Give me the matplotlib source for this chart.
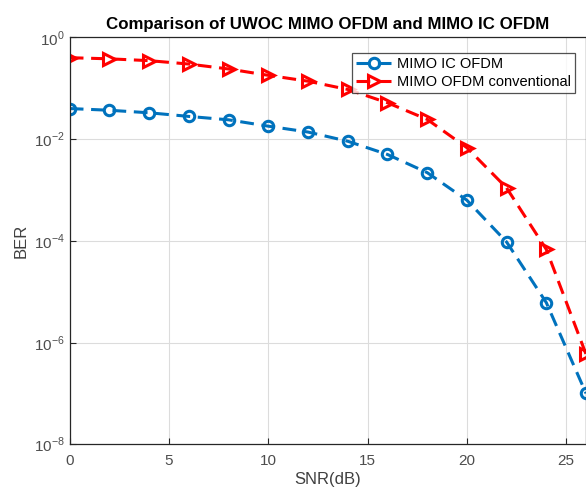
import matplotlib
matplotlib.use("Agg")
import matplotlib.pyplot as plt
from matplotlib.ticker import FixedLocator, NullLocator

plt.rcParams['font.family'] = ['Liberation Sans', 'DejaVu Sans']
plt.rcParams['axes.unicode_minus'] = False
plt.rcParams['mathtext.fontset'] = 'custom'
plt.rcParams['mathtext.rm'] = 'Liberation Sans'

snr = [0, 2, 4, 6, 8, 10, 12, 14, 16, 18, 20, 22, 24, 26]
ber_ic = [0.040, 0.037, 0.033, 0.028, 0.024, 0.018, 0.0138, 0.0091, 0.0050,
          0.0022, 6.3e-4, 9.5e-5, 6.1e-6, 1.0e-7]
ber_conv = [0.40, 0.38, 0.35, 0.30, 0.24, 0.18, 0.138, 0.095, 0.052,
            0.0245, 0.0068, 1.1e-3, 6.8e-5, 5.9e-7]
xticks = [0, 5, 10, 15, 20, 25]
yticks = [1e-8, 1e-6, 1e-4, 1e-2, 1e0]
ytick_labels = ["10$^{-8}$", "10$^{-6}$", "10$^{-4}$", "10$^{-2}$", "10$^{0}$"]
title = "Comparison of UWOC MIMO OFDM and MIMO IC OFDM"
labels = ["MIMO IC OFDM", "MIMO OFDM conventional"]

fig = plt.figure(figsize=(5.86, 4.93), dpi=100)
ax = fig.add_axes([0.119, 0.099, 0.881, 0.825])

ax.semilogy(snr, ber_ic, '--o', color='#0072BD', lw=2.2, ms=7.5,
            mfc='none', mew=2.2, label=labels[0], dashes=(4.5, 2.5))
ax.semilogy(snr, ber_conv, '-->', color='#FF0000', lw=2.2, ms=8.5,
            mfc='none', mew=2.2, label=labels[1], dashes=(4.5, 2.5))

ax.set_xlim(0, 26)
ax.set_ylim(1e-8, 1)
ax.set_xticks(xticks)
ax.yaxis.set_major_locator(FixedLocator(yticks))
ax.set_yticklabels(ytick_labels)
ax.yaxis.set_minor_locator(NullLocator())
ax.grid(True, which='major', color='#dcdcdc', lw=0.8)
ax.set_axisbelow(True)
ax.tick_params(direction='in', labelsize=11, colors='#262626',
               labelcolor='#4d4d4d', length=4)
ax.tick_params(axis='x', pad=7)
for s in ax.spines.values():
    s.set_color('#262626')
    s.set_linewidth(0.9)

ax.set_xlabel("SNR(dB)", fontsize=12, color='#404040', labelpad=3)
ax.set_ylabel("BER", fontsize=12, color='#404040', labelpad=4)
ax.set_title(title, fontsize=12.2, fontweight='bold', pad=6)

leg = ax.legend(loc='upper right', bbox_to_anchor=(0.985, 0.97), fontsize=10.5,
                frameon=True, fancybox=False, edgecolor='#262626',
                handlelength=2.4, borderpad=0.3, labelspacing=0.25,
                handletextpad=0.4, borderaxespad=0.2)
leg.get_frame().set_linewidth(0.9)

fig.savefig("out.png", dpi=100)
